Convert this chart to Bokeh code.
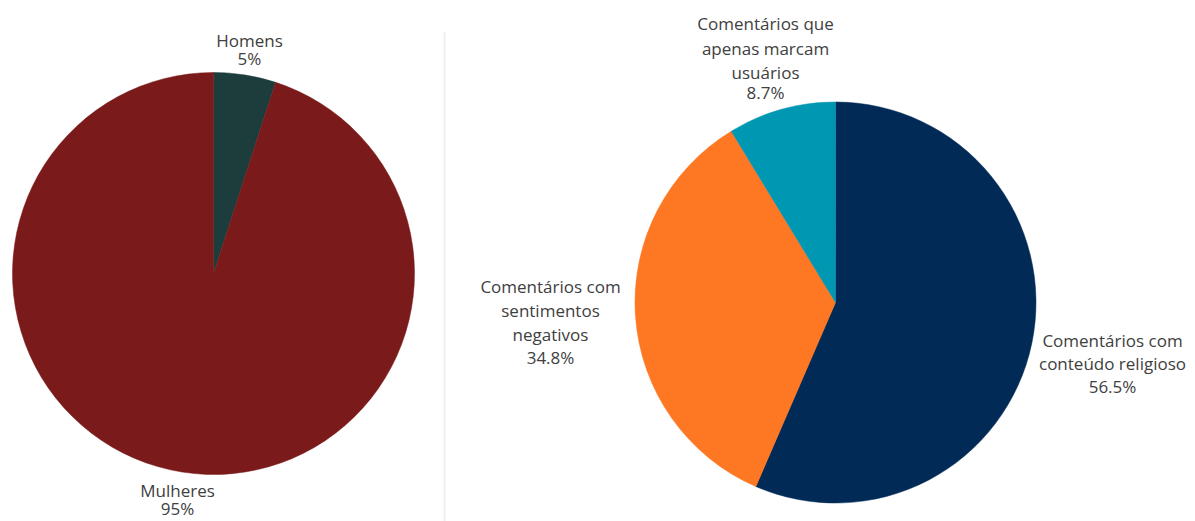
import math
from bokeh.plotting import figure
from bokeh.models import Range1d, ColumnDataSource
from bokeh.core.properties import value
from bokeh.embed import file_html
from bokeh.resources import INLINE

# ---- data ----
left_labels = ["Homens", "Mulheres"]
left_values = [5, 95]
left_colors = ["#1D3D3D", "#7A1A1B"]

right_labels = ["Comentários com conteúdo religioso",
                "Comentários com sentimentos negativos",
                "Comentários que apenas marcam usuários"]
right_values = [56.5, 34.8, 8.7]
right_colors = ["#012A57", "#FE7722", "#0097B3"]

# label line breaks (text), per slice
left_label_lines = [["Homens"], ["Mulheres"]]
right_label_lines = [["Comentários com", "conteúdo religioso"],
                     ["Comentários com", "sentimentos", "negativos"],
                     ["Comentários que", "apenas marcam", "usuários"]]

W, H = 1195, 521
FONT = "Open Sans"
TXT = "#404040"

p = figure(width=W, height=H, output_backend="svg", toolbar_location=None,
           x_range=Range1d(0, W), y_range=Range1d(-H, 0),
           min_border=0, outline_line_color=None)
p.axis.visible = False
p.grid.visible = False
p.background_fill_color = "white"
p.border_fill_color = "white"


def pie(cx, cy, r, vals, cols):
    total = sum(vals)
    starts, ends = [], []
    cum = 0.0
    for v in vals:
        starts.append(math.pi / 2 - 2 * math.pi * cum / total)
        cum += v
        ends.append(math.pi / 2 - 2 * math.pi * cum / total)
    src = ColumnDataSource(dict(x=[cx] * len(vals), y=[-cy] * len(vals),
                                s=starts, e=ends, c=cols))
    p.wedge(x="x", y="y", radius=r, radius_units="screen", start_angle="s",
            end_angle="e", direction="clock", fill_color="c",
            line_color="c", line_width=0.5, source=src)


# separator
p.segment(x0=[444], y0=[-32], x1=[444], y1=[-530], line_color="#EFEFEF",
          line_width=2)

pie(213, 273, 201, left_values, left_colors)
pie(835, 302, 200.5, right_values, right_colors)


def label(x, ys, lines, val):
    texts = lines + [f"{val}%"]
    p.text(x=[x] * len(texts), y=[-y for y in ys], text=texts,
           text_font=value(FONT), text_font_size="17px", text_color=TXT,
           text_align="center", text_baseline="middle")


label(249, [40, 58], left_label_lines[0], left_values[0])
label(177, [490, 508], left_label_lines[1], left_values[1])
label(1112, [340, 363, 386], right_label_lines[0], right_values[0])
label(550, [286, 310, 334, 357], right_label_lines[1], right_values[1])
label(765, [23, 48, 72, 92], right_label_lines[2], right_values[2])

open("out.html", "w").write(file_html(p, INLINE))
